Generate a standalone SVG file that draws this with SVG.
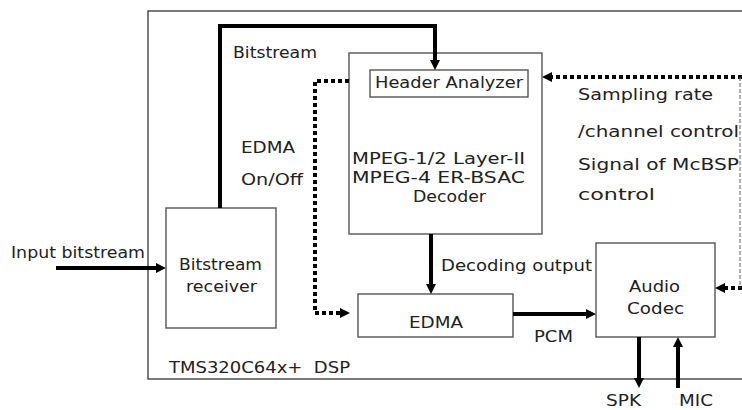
<svg xmlns="http://www.w3.org/2000/svg" width="742" height="410" viewBox="0 0 742 410">
<defs>
<style>
text{font-family:"DejaVu Sans","Liberation Sans",sans-serif;font-size:15px;fill:#222;white-space:pre}
.box{fill:#fff;stroke:#555;stroke-width:1.4}
.thick{fill:none;stroke:#000;stroke-width:4}
.dot{fill:none;stroke:#000;stroke-width:4;stroke-dasharray:4 3}
.thin{fill:none;stroke:#666;stroke-width:1;stroke-dasharray:4 2}
</style>
<marker id="ah" viewBox="0 0 10 10" refX="0" refY="5" markerWidth="10" markerHeight="10" markerUnits="userSpaceOnUse" orient="auto">
<path d="M0,0 L10,5 L0,10 z" fill="#000"/>
</marker>
</defs>
<rect width="742" height="410" fill="#fff"/>
<g id="dsp">
<rect x="148" y="11" width="600" height="368" fill="none" stroke="#333" stroke-width="1.3"/>
<text x="169" y="373" textLength="181" lengthAdjust="spacingAndGlyphs">TMS320C64x+  DSP</text>
</g>
<g id="decoder">
<rect class="box" x="349" y="53" width="193" height="181"/>
<text x="352" y="164" textLength="173" lengthAdjust="spacingAndGlyphs">MPEG-1/2 Layer-II</text>
<text x="352" y="183" textLength="173" lengthAdjust="spacingAndGlyphs">MPEG-4 ER-BSAC</text>
<text x="413" y="202" textLength="73" lengthAdjust="spacingAndGlyphs">Decoder</text>
</g>
<g id="header">
<rect class="box" x="370" y="70" width="158" height="27"/>
<text x="375" y="88" textLength="148" lengthAdjust="spacingAndGlyphs">Header Analyzer</text>
</g>
<g id="receiver">
<rect class="box" x="166" y="208" width="110" height="120"/>
<text x="179" y="270" textLength="83" lengthAdjust="spacingAndGlyphs">Bitstream</text>
<text x="186" y="292" textLength="71" lengthAdjust="spacingAndGlyphs">receiver</text>
</g>
<g id="edma">
<rect class="box" x="358" y="294" width="155" height="43"/>
<text x="409" y="328" textLength="54" lengthAdjust="spacingAndGlyphs">EDMA</text>
</g>
<g id="codec">
<rect class="box" x="596" y="243" width="119" height="94"/>
<text x="629" y="292" textLength="51" lengthAdjust="spacingAndGlyphs">Audio</text>
<text x="627" y="314" textLength="57" lengthAdjust="spacingAndGlyphs">Codec</text>
</g>
<g id="connectors">
<path class="thick" d="M220,208 V26 H435 V60" marker-end="url(#ah)"/>
<path class="thick" d="M56,268 H156" marker-end="url(#ah)"/>
<path class="thick" d="M431,234 V284" marker-end="url(#ah)"/>
<path class="thick" d="M513,314 H586" marker-end="url(#ah)"/>
<path class="thick" d="M639,337 V378" marker-end="url(#ah)"/>
<path class="thick" d="M678,388 V347" marker-end="url(#ah)"/>
<path class="dot" d="M349,81 H315 V313 H340" marker-end="url(#ah)"/>
<path class="dot" d="M742,77 H552" marker-end="url(#ah)"/>
<path class="dot" d="M742,288 H725" marker-end="url(#ah)"/>
<path class="thin" d="M740,77 V288"/>
<text x="233" y="58" textLength="84" lengthAdjust="spacingAndGlyphs">Bitstream</text>
<text x="11" y="258" textLength="134" lengthAdjust="spacingAndGlyphs">Input bitstream</text>
<text x="241" y="153" textLength="54" lengthAdjust="spacingAndGlyphs">EDMA</text>
<text x="241" y="185" textLength="62" lengthAdjust="spacingAndGlyphs">On/Off</text>
<text x="578" y="100" textLength="135" lengthAdjust="spacingAndGlyphs">Sampling rate</text>
<text x="578" y="137" textLength="161" lengthAdjust="spacingAndGlyphs">/channel control</text>
<text x="578" y="170" textLength="161" lengthAdjust="spacingAndGlyphs">Signal of McBSP</text>
<text x="578" y="200" textLength="77" lengthAdjust="spacingAndGlyphs">control</text>
<text x="441" y="271" textLength="151" lengthAdjust="spacingAndGlyphs">Decoding output</text>
<text x="534" y="342" textLength="39" lengthAdjust="spacingAndGlyphs">PCM</text>
<text x="606" y="406" textLength="35" lengthAdjust="spacingAndGlyphs">SPK</text>
<text x="679" y="406" textLength="34" lengthAdjust="spacingAndGlyphs">MIC</text>
</g>
</svg>
